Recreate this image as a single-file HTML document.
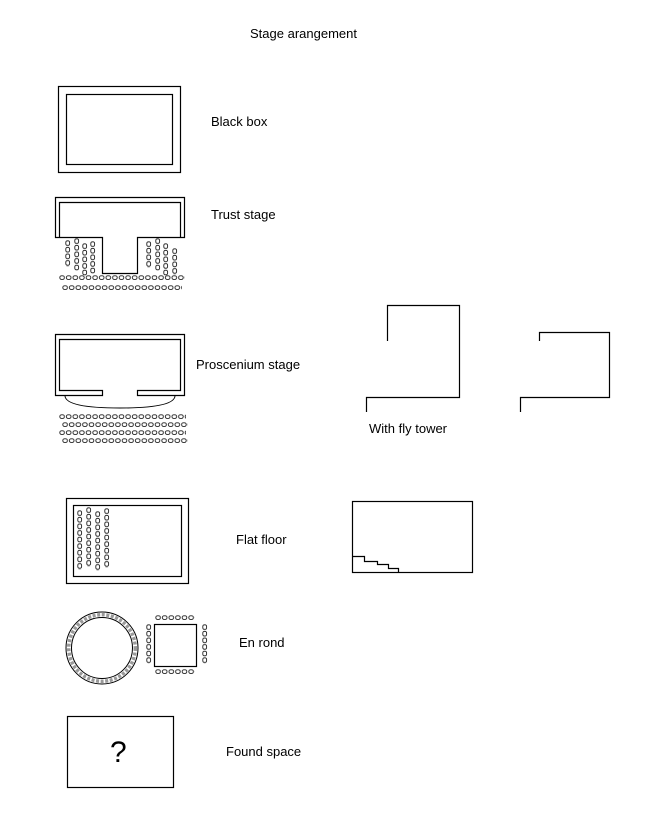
<!DOCTYPE html>
<html><head><meta charset="utf-8"><style>
html,body{margin:0;padding:0;background:#fff;}
svg{display:block;}
text{font-family:"Liberation Sans",sans-serif;font-size:13px;fill:#000;}
</style></head><body>
<svg width="652" height="814" viewBox="0 0 652 814" xmlns="http://www.w3.org/2000/svg">
<defs>
<pattern id="h" x="0" y="0" width="6.6" height="8" patternUnits="userSpaceOnUse">
<rect x="0.8" y="0.8" width="4.6" height="3.6" rx="1.6" fill="none" stroke="#222" stroke-width="0.9"/>
</pattern>
<pattern id="v" x="0" y="0" width="8" height="6.6" patternUnits="userSpaceOnUse">
<rect x="0.8" y="0.8" width="3.8" height="4.6" rx="1.5" fill="none" stroke="#222" stroke-width="0.9"/>
</pattern>
</defs>
<g fill="none" stroke="#000" stroke-width="1.2">
<text x="250" y="38" stroke="none">Stage arangement</text>

<!-- Black box -->
<rect x="58.5" y="86.5" width="122" height="86"/>
<rect x="66.5" y="94.5" width="106" height="70"/>
<text x="211" y="126" stroke="none">Black box</text>

<!-- Thrust -->
<path d="M55.5 237.5 V197.5 H184.5 V237.5 H137.5 V273.5 H102.5 V237.5 Z"/>
<path d="M59.5 237.5 V202.5 H180.5 V237.5"/>
<g stroke="none">
<rect width="6" height="27" fill="url(#v)" transform="translate(65,240)"/>
<rect width="6" height="33" fill="url(#v)" transform="translate(74,238)"/>
<rect width="6" height="33" fill="url(#v)" transform="translate(82,243)"/>
<rect width="6" height="33" fill="url(#v)" transform="translate(90,241)"/>
<rect width="6" height="27" fill="url(#v)" transform="translate(146,241)"/>
<rect width="6" height="33" fill="url(#v)" transform="translate(155,238)"/>
<rect width="6" height="33" fill="url(#v)" transform="translate(163,243)"/>
<rect width="6" height="27" fill="url(#v)" transform="translate(172,248)"/>
<rect width="126" height="6" fill="url(#h)" transform="translate(59,275)"/>
<rect width="120" height="6" fill="url(#h)" transform="translate(62,285)"/>
</g>
<text x="211" y="219" stroke="none">Trust stage</text>

<!-- Proscenium -->
<path d="M102.5 395.5 H55.5 V334.5 H184.5 V395.5 H137.5 V390.5 H180.5 V339.5 H59.5 V390.5 H102.5 Z"/>
<path d="M65 396 Q66 408 120 408 Q174 408 175 396" stroke-width="1"/>
<g stroke="none">
<rect width="127" height="6" fill="url(#h)" transform="translate(59,414)"/>
<rect width="126" height="6" fill="url(#h)" transform="translate(62,422)"/>
<rect width="127" height="6" fill="url(#h)" transform="translate(59,430)"/>
<rect width="126" height="6" fill="url(#h)" transform="translate(62,438)"/>
</g>
<text x="196" y="369" stroke="none">Proscenium stage</text>

<!-- Fly tower -->
<path d="M387.5 341 V305.5 H459.5 V397.5 H366.5 V412"/>
<path d="M539.5 341 V332.5 H609.5 V397.5 H520.5 V412"/>
<text x="369" y="433" stroke="none">With fly tower</text>

<!-- Flat floor -->
<rect x="66.5" y="498.5" width="122" height="85"/>
<rect x="73.5" y="505.5" width="108" height="71"/>
<g stroke="none">
<rect width="6" height="60" fill="url(#v)" transform="translate(77,510)"/>
<rect width="6" height="60" fill="url(#v)" transform="translate(86,507)"/>
<rect width="6" height="60" fill="url(#v)" transform="translate(95,511)"/>
<rect width="6" height="60" fill="url(#v)" transform="translate(104,508)"/>
</g>
<text x="236" y="544" stroke="none">Flat floor</text>
<rect x="352.5" y="501.5" width="120" height="71"/>
<path d="M352.5 556.5 H364.5 V561.5 H377.5 V564.5 H388.5 V568.5 H398.5 V572.5"/>

<!-- En rond -->
<circle cx="102" cy="648" r="36" stroke-width="1"/>
<circle cx="102" cy="648" r="30.5" stroke-width="1"/>
<circle cx="102" cy="648" r="33.3" stroke-width="3.5" stroke-dasharray="3 1.6" stroke="#999"/>
<rect x="154.5" y="624.5" width="42" height="42"/>
<g stroke="none">
<rect width="40" height="6" fill="url(#h)" transform="translate(155,615)"/>
<rect width="40" height="6" fill="url(#h)" transform="translate(155,669)"/>
<rect width="6" height="40" fill="url(#v)" transform="translate(146,624)"/>
<rect width="6" height="40" fill="url(#v)" transform="translate(202,624)"/>
</g>
<text x="239" y="647" stroke="none">En rond</text>

<!-- Found space -->
<rect x="67.5" y="716.5" width="106" height="71"/>
<text x="110" y="762" stroke="none" style="font-size:30px">?</text>
<text x="226" y="756" stroke="none">Found space</text>
</g>
</svg>
</body></html>
